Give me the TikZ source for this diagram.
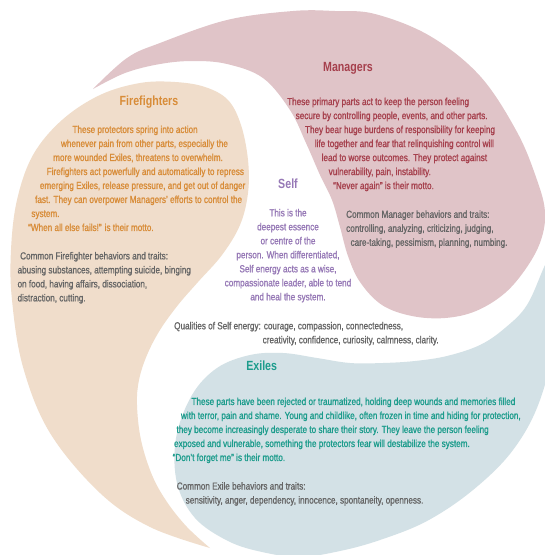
\documentclass[tikz,border=0pt]{standalone}
\usepackage{fontspec}
\setmainfont{Liberation Sans}[FakeStretch=0.8, Ligatures=TeX]
\newfontfamily\bodyfont{Liberation Sans}[FakeStretch=0.8, FakeBold=1.1, Ligatures=TeX]
\definecolor{mgrfill}{HTML}{E0C4C8}
\definecolor{fffill}{HTML}{F0DDCB}
\definecolor{exfill}{HTML}{D3E1E6}
\definecolor{mgrtext}{HTML}{A6404D}
\definecolor{fftext}{HTML}{D88C38}
\definecolor{extext}{HTML}{1C9C8C}
\definecolor{selftext}{HTML}{9678B6}
\definecolor{graytext}{HTML}{666666}
\begin{document}
\begin{tikzpicture}[x=1pt,y=-1pt,
  bodytext/.style={font=\bodyfont\fontsize{10.2}{14}\selectfont, align=left, inner sep=0pt, anchor=north west},
  parttitle/.style={font=\fontsize{13.3}{15}\selectfont\bfseries, inner sep=0pt, anchor=base},
  blob/.style={smooth, tension=0.6}]
\useasboundingbox (0,0) rectangle (545,555);
\clip (0,0) rectangle (545,555);
\fill[white] (0,0) rectangle (545,555);
% Managers
\fill[mgrfill] plot[blob] coordinates {(93,89) (127,58) (160,43) (227,20) (293,11) (335,11) (375,14) (430,36) (480,76) (517,132) (537,180) (545,212) (541,240) (527,267) (505,293) (476,311) (445,318) (412,316) (382,305) (360,282) (348,256) (340,227) (332,200) (320,175) (306,143) (290,110) (263,78) (227,64) (193,61) (160,64) (125,73) (93,89)};
% Firefighters
\fill[fffill] plot[blob] coordinates {(210,548) (150,527) (100,493) (50,433) (23,367) (12,300) (11,250) (17,200) (33,155) (62,120) (100,95) (140,83) (175,82) (205,87) (228,100) (241,125) (248,160) (248,193) (240,225) (222,255) (198,282) (178,305) (160,330) (147,355) (139,380) (137,405) (141,440) (152,475) (167,502) (187,527) (210,548)};
% Exiles
\fill[exfill] plot[blob] coordinates {(562,230) (545,265) (527,305) (505,328) (480,345) (447,356) (415,361) (383,363) (350,363) (317,358) (283,353) (250,355) (217,368) (192,395) (176,438) (177,483) (195,518) (228,541) (262,552) (300,557) (340,551) (380,540) (427,521) (473,490) (513,450) (540,400) (556,330) (562,230)};

% Managers texts
\node[parttitle, text=mgrtext] (mgrtitle) at (348,71) {Managers};
\node[bodytext, text=mgrtext] (mgrpara) at (287,97.5) {These primary parts act to keep the person feeling\\
\hspace*{8.5pt}secure by controlling people, events, and other parts.\\
\hspace*{17.8pt}They bear huge burdens of responsibility for keeping\\
\hspace*{27.6pt}life together and fear that relinquishing control will\\
\hspace*{34.5pt}lead to worse outcomes. They protect against\\
\hspace*{41.5pt}vulnerability, pain, instability.\\
\hspace*{46pt}``Never again'' is their motto.};
\node[bodytext, text=graytext] (mgrtraits) at (346,210.2) {Common Manager behaviors and traits:\\
controlling, analyzing, criticizing, judging,\\
\hspace*{4.4pt}care-taking, pessimism, planning, numbing.};

% Firefighters texts
\node[parttitle, text=fftext] (fftitle) at (149,105) {Firefighters};
\node[bodytext, text=fftext] (ffpara) at (28,125.4) {\hspace*{44.3pt}These protectors spring into action\\
\hspace*{32.8pt}whenever pain from other parts, especially the\\
\hspace*{25pt}more wounded Exiles, threatens to overwhelm.\\
\hspace*{18.5pt}Firefighters act powerfully and automatically to repress\\
\hspace*{11.7pt}emerging Exiles, release pressure, and get out of danger\\
\hspace*{6.9pt}fast. They can overpower Managers' efforts to control the\\
\hspace*{3.2pt}system.\\
``When all else fails!'' is their motto.};
\node[bodytext, text=graytext] (fftraits) at (17.4,251.8) {\hspace*{2.6pt}Common Firefighter behaviors and traits:\\
abusing substances, attempting suicide, binging\\
on food, having affairs, dissociation,\\
distraction, cutting.};

% Self texts
\node[parttitle, text=selftext] (selftitle) at (288,188) {Self};
\node[bodytext, text=selftext, align=center, anchor=north] (selfpara) at (288,208.7) {This is the\\
deepest essence\\
or centre of the\\
person. When differentiated,\\
Self energy acts as a wise,\\
compassionate leader, able to tend\\
and heal the system.};
\node[bodytext, text=graytext] (qualities) at (174,321.7) {Qualities of Self energy: courage, compassion, connectedness,\\
\hspace*{88.5pt}creativity, confidence, curiosity, calmness, clarity.};

% Exiles texts
\node[parttitle, text=extext] (extitle) at (261.7,370) {Exiles};
\node[bodytext, text=extext] (expara) at (172.5,397.4) {\hspace*{18.8pt}These parts have been rejected or traumatized, holding deep wounds and memories filled\\
\hspace*{8.3pt}with terror, pain and shame. Young and childlike, often frozen in time and hiding for protection,\\
\hspace*{3.8pt}they become increasingly desperate to share their story. They leave the person feeling\\
\hspace*{1.4pt}exposed and vulnerable, something the protectors fear will destabilize the system.\\
``Don't forget me'' is their motto.};
\node[bodytext, text=graytext] (extraits) at (176.6,482) {Common Exile behaviors and traits:\\
\hspace*{8.9pt}sensitivity, anger, dependency, innocence, spontaneity, openness.};
\end{tikzpicture}
\end{document}
